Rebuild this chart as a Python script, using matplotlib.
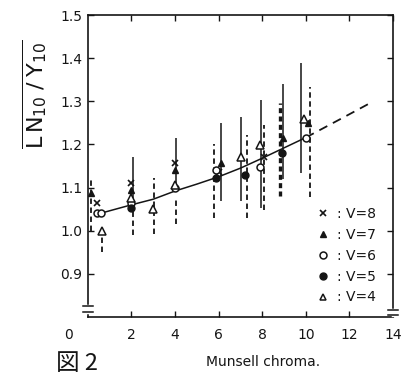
import matplotlib
matplotlib.use('Agg')
import matplotlib.pyplot as plt
from matplotlib.lines import Line2D
from matplotlib.transforms import ScaledTranslation

# fitted curve (solid part, dashed extrapolation)
curve_x = [0.7, 2, 3, 4, 5, 6, 7, 8, 9, 10]
curve_y = [1.042, 1.060, 1.073, 1.092, 1.108, 1.125, 1.145, 1.168, 1.192, 1.216]
ext_x = [10, 11, 12, 13.1]
ext_y = [1.216, 1.243, 1.270, 1.300]

# measured points per value V (chroma, LN/Y)
v8_x = [0.4, 2.0, 4.0, 6.0, 8.1]
v8_y = [1.065, 1.110, 1.158, 1.135, 1.172]
v7_x = [0.15, 2.0, 4.0, 6.1, 8.95, 10.1]
v7_y = [1.088, 1.095, 1.140, 1.156, 1.214, 1.249]
v6_x = [0.4, 0.6, 2.0, 4.0, 5.9, 7.9, 10.0]
v6_y = [1.040, 1.040, 1.065, 1.098, 1.140, 1.147, 1.214]
v5_x = [2.0, 5.9, 7.2, 8.9]
v5_y = [1.053, 1.122, 1.128, 1.179]
v4_x = [0.64, 2.0, 3.0, 4.0, 7.05, 7.9, 9.9]
v4_y = [1.000, 1.075, 1.051, 1.105, 1.170, 1.198, 1.258]

# range bars (chroma, low, high)
solid_x = [2.05, 4.05, 6.1, 7.05, 7.95, 8.95, 9.8]
solid_lo = [1.070, 1.090, 1.070, 1.070, 1.053, 1.120, 1.133]
solid_hi = [1.170, 1.214, 1.249, 1.263, 1.302, 1.340, 1.388]
dash_x = [0.15, 0.64, 2.05, 3.05, 4.05, 5.8, 7.3, 8.1, 10.2]
dash_lo = [1.000, 0.950, 0.990, 0.993, 1.016, 1.030, 1.030, 1.047, 1.077]
dash_hi = [1.125, 0.995, 1.060, 1.123, 1.076, 1.202, 1.221, 1.244, 1.333]
heavy_x = [8.8]
heavy_lo = [1.081]
heavy_hi = [1.295]

ink = '#151515'

fig = plt.figure(figsize=(4.01, 3.76), dpi=100)
ax = fig.add_axes([0.219, 0.157, 0.761, 0.803])

ax.vlines(solid_x, solid_lo, solid_hi, color=ink, lw=1.1)
ax.vlines(dash_x, dash_lo, dash_hi, color=ink, lw=1.3, linestyles=(0, (3, 2)))
ax.vlines(heavy_x, heavy_lo, heavy_hi, color=ink, lw=2.4, linestyles=(0, (1.5, 1)))

ax.plot(curve_x, curve_y, '-', color=ink, lw=1.1)
ax.plot(ext_x, ext_y, color=ink, lw=1.3, dashes=(5, 3.5))

ms = 5
ax.plot(v8_x, v8_y, 'x', color=ink, ms=ms, mew=1.2, ls='none')
ax.plot(v7_x, v7_y, '^', color=ink, ms=ms, ls='none')
ax.plot(v6_x, v6_y, 'o', mfc='white', mec=ink, ms=ms, mew=1.1, ls='none')
ax.plot(v5_x, v5_y, 'o', color=ink, ms=ms, ls='none')
ax.plot(v4_x, v4_y, '^', mfc='white', mec=ink, ms=ms + 1, mew=1.1, ls='none')

ax.set_xlim(0, 14)
ax.set_ylim(0.8, 1.5)
ax.set_xticks([0, 2, 4, 6, 8, 10, 12, 14])
ax.set_yticks([0.9, 1.0, 1.1, 1.2, 1.3, 1.4, 1.5])
ax.set_xticklabels(['0', '2', '4', '6', '8', '10', '12', '14'])
ax.set_yticklabels(['0.9', '1.0', '1.1', '1.2', '1.3', '1.4', '1.5'])
ax.tick_params(direction='in', top=True, right=True, length=4, width=1,
               labelsize=10, colors=ink)
ax.tick_params(axis='x', pad=8)
ax.tick_params(axis='y', pad=4)
for s in ax.spines.values():
    s.set_linewidth(1.2)
    s.set_color(ink)

# the "0" label sits left of the corner
lab0 = ax.get_xticklabels()[0]
lab0.set_transform(lab0.get_transform() + ScaledTranslation(-0.19, 0, fig.dpi_scale_trans))
ax.xaxis.get_major_ticks()[0].tick1line.set_visible(False)
ax.xaxis.get_major_ticks()[0].tick2line.set_visible(False)

# axis break marks
for xb, (y1, y2) in [(0, (0.812, 0.826)), (14, (0.804, 0.816))]:
    ax.plot([xb, xb], [y1, y2], color='white', lw=2.5, clip_on=False, zorder=5)
    for yb in (y1, y2):
        ax.plot([xb - 0.22, xb + 0.22], [yb, yb], color=ink, lw=1.1,
                clip_on=False, zorder=6)

# legend
handles = [
    Line2D([], [], marker='x', color=ink, ls='none', ms=5, mew=1.2),
    Line2D([], [], marker='^', color=ink, ls='none', ms=5),
    Line2D([], [], marker='o', mfc='white', mec=ink, ls='none', ms=5, mew=1.1),
    Line2D([], [], marker='o', color=ink, ls='none', ms=5),
    Line2D([], [], marker='^', mfc='white', mec=ink, ls='none', ms=5, mew=1.1),
]
labels = [': V=8', ': V=7', ': V=6', ': V=5', ': V=4']
ax.legend(handles, labels, loc='lower right', bbox_to_anchor=(0.985, 0.0),
          frameon=False, fontsize=10, labelspacing=0.5, handlelength=1.0,
          handletextpad=0.5, labelcolor=ink)

# y label sits high, beside the top half of the axis
fig.text(0.085, 0.75, r'$\overline{\mathrm{L\,N_{10}\;/\;Y_{10}}}$', fontsize=16,
         rotation=90, ha='center', va='center', color=ink)
fig.text(0.655, 0.038, 'Munsell chroma.', fontsize=10, ha='center', va='center',
         color=ink)
fig.text(0.14, 0.065, '図 2', fontsize=17, ha='left', va='top', color=ink,
         family=['Noto Sans CJK JP', 'DejaVu Sans'])

fig.savefig('out.png', dpi=100, facecolor='white')
